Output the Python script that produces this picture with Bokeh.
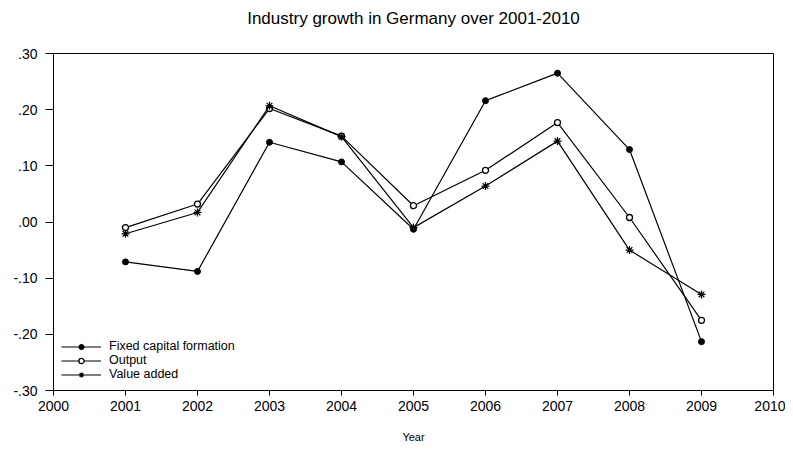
from bokeh.plotting import figure
from bokeh.models import Range1d, FixedTicker, CustomJSTickFormatter, Legend, LegendItem, ColumnDataSource, Title
from bokeh.embed import file_html
from bokeh.resources import INLINE

years = [2001, 2002, 2003, 2004, 2005, 2006, 2007, 2008, 2009]
fixed_capital = [-0.071, -0.088, 0.142, 0.107, -0.013, 0.216, 0.265, 0.129, -0.213]
output = [-0.010, 0.032, 0.202, 0.153, 0.029, 0.092, 0.177, 0.008, -0.175]
value_added = [-0.021, 0.017, 0.207, 0.152, -0.010, 0.064, 0.144, -0.050, -0.129]
x_ticks = [2000, 2001, 2002, 2003, 2004, 2005, 2006, 2007, 2008, 2009, 2010]
y_ticks = [-0.3, -0.2, -0.1, 0.0, 0.1, 0.2, 0.3]
title_text = "Industry growth in Germany over 2001-2010"

FONT = "Liberation Sans"

p = figure(width=785, height=445, output_backend="svg", toolbar_location=None,
           x_range=Range1d(2000, 2010), y_range=Range1d(-0.30, 0.30),
           min_border_left=53, min_border_right=12, min_border_bottom=53, min_border_top=53)

# spacer next to the frame, then the real title further out
spacer = Title(text=" ", text_font=FONT, text_font_size="10px", standoff=4)
p.add_layout(spacer, "above")
main_title = Title(text=title_text, align="center", vertical_align="top",
                   text_font=FONT, text_font_size="17px", text_font_style="normal",
                   text_color="black", standoff=13)
p.add_layout(main_title, "above")

p.xgrid.visible = False
p.ygrid.visible = False
p.outline_line_color = "black"
p.outline_line_width = 1
p.background_fill_color = "white"
p.border_fill_color = "white"

p.xaxis.ticker = FixedTicker(ticks=x_ticks)
p.yaxis.ticker = FixedTicker(ticks=y_ticks)
p.yaxis.formatter = CustomJSTickFormatter(code="""
    var s = tick.toFixed(2);
    if (s === "-0.00") { s = "0.00"; }
    return s.replace("0.", ".");
""")

for ax in (p.xaxis[0], p.yaxis[0]):
    ax.axis_line_color = "black"
    ax.major_tick_line_color = "black"
    ax.major_tick_in = 0
    ax.minor_tick_line_color = None
    ax.major_label_text_font = FONT
    ax.major_label_text_font_size = "14px"
    ax.major_label_text_color = "black"

p.yaxis.major_tick_out = 8
p.yaxis.major_label_standoff = 8
p.xaxis.major_tick_out = 5
p.xaxis.major_label_standoff = 5

p.xaxis.axis_label = "Year"
p.xaxis.axis_label_text_font = FONT
p.xaxis.axis_label_text_font_size = "11px"
p.xaxis.axis_label_text_font_style = "normal"
p.xaxis.axis_label_text_color = "black"
p.xaxis.axis_label_standoff = 17

src = ColumnDataSource(dict(year=years, fcf=fixed_capital, out=output, va=value_added))

l1 = p.line("year", "fcf", source=src, line_color="black", line_width=1.2)
m1 = p.scatter("year", "fcf", source=src, marker="circle", size=6,
               fill_color="black", line_color="black")
l2 = p.line("year", "out", source=src, line_color="black", line_width=1.2)
m2 = p.scatter("year", "out", source=src, marker="circle", size=6,
               fill_color="white", line_color="black", line_width=1.3)
l3 = p.line("year", "va", source=src, line_color="black", line_width=1.2)
m3 = p.scatter("year", "va", source=src, marker="asterisk", size=8,
               line_color="black", line_width=1.2)

legend = Legend(items=[
    LegendItem(label="Fixed capital formation", renderers=[l1, m1]),
    LegendItem(label="Output", renderers=[l2, m2]),
    LegendItem(label="Value added", renderers=[l3, m3]),
], location=(8, 9))
legend.border_line_color = None
legend.background_fill_alpha = 0
legend.padding = 6
legend.margin = 0
legend.spacing = 0
legend.glyph_width = 40
legend.glyph_height = 13
legend.label_height = 12
legend.label_standoff = 8
legend.label_text_font = FONT
legend.label_text_font_size = "12.5px"
legend.label_text_color = "black"
legend.label_text_line_height = 1.0
p.add_layout(legend)

open("out.html", "w").write(file_html(p, INLINE))
